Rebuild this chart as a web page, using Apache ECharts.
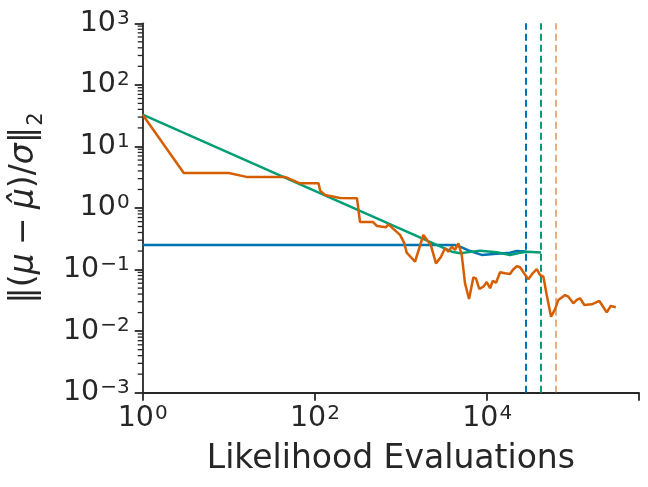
<!DOCTYPE html>
<html><head><meta charset="utf-8">
<script src="https://cdn.jsdelivr.net/npm/echarts@6/dist/echarts.min.js"></script>
<style>html,body{margin:0;padding:0;background:#fff}#c{width:648px;height:487px}</style>
</head><body><div id="c"></div>
<script>
// ---- data ----
const blueX = [1, 4200, 4850, 6340, 8650, 12920, 18450, 22080, 28300];
const blueY = [0.251, 0.25, 0.235, 0.2, 0.173, 0.18, 0.188, 0.2, 0.196];
const greenX = [1, 3900, 4850, 8280, 12920, 18450, 24100, 28840, 42300];
const greenY = [32.8, 0.195, 0.184, 0.203, 0.191, 0.173, 0.188, 0.195, 0.19];
const orangeX = [1, 3, 10, 16, 45, 67, 110, 115, 131, 195, 308, 334, 473, 526, 670, 713, 973, 1084, 1164, 1455,
  1816, 2213, 2547, 2891, 3243, 3540, 3882, 4236, 4634, 5070, 5534, 6166, 6918, 7430, 8110, 9036, 9886, 10810,
  11610, 12680, 14130, 16140, 18450, 19820, 22080, 24100, 26850, 30060, 33880, 37670, 41110, 44980, 49200, 55200,
  61380, 67140, 80350, 87700, 100200, 109900, 120000, 134600, 164100, 200900, 223900, 244900, 272300, 311900];
const orangeY = [32.8, 3.7, 3.7, 3.2, 3.2, 2.52, 2.52, 1.92, 1.63, 1.45, 1.44, 0.59, 0.59, 0.51, 0.486, 0.543, 0.365,
  0.274, 0.188, 0.134, 0.365, 0.251, 0.126, 0.158, 0.222, 0.195, 0.235, 0.208, 0.267, 0.173, 0.0598, 0.0333, 0.075,
  0.0711, 0.0484, 0.0527, 0.0628, 0.0497, 0.0653, 0.0612, 0.0904, 0.0871, 0.0847, 0.0984, 0.114, 0.109, 0.0871,
  0.0695, 0.0871, 0.102, 0.0817, 0.0766, 0.0386, 0.0172, 0.0226, 0.0321, 0.0386, 0.0363, 0.0283, 0.0321, 0.0342,
  0.0266, 0.0273, 0.0309, 0.0244, 0.0202, 0.0256, 0.0244];
const stopX = [28300, 42300, 63100]; // blue, green, orange stopping points
const xTickExps = [0, 2, 4];
const yTickExps = [-3, -2, -1, 0, 1, 2, 3];
const xLabel = 'Likelihood Evaluations';

// ---- chart ----
const FONT = 'DejaVu Sans';
const INK = '#262626';
const zip = (xs, ys) => xs.map((x, i) => [x, ys[i]]);
const supFmt = v => {
  const e = Math.round(Math.log10(v));
  return '{b|10}{s|' + (e < 0 ? '\u2212' + (-e) : e) + '}';
};
const richLab = {
  b: { fontSize: 28.5, fontFamily: FONT, color: INK, lineHeight: 30, verticalAlign: 'middle' },
  s: { fontSize: 20, fontFamily: FONT, color: INK, lineHeight: 25, verticalAlign: 'top', padding: [0, 0, 0, 1] }
};
const dash = (x, color, op) => ({
  silent: true, symbol: ['none', 'none'], label: { show: false },
  lineStyle: { type: [7, 4], width: 2, color: color, opacity: op },
  emphasis: { disabled: true },
  data: [{ xAxis: x }]
});
const chart = echarts.init(document.getElementById('c'), null, { renderer: 'canvas' });
const nameRich = {
  n: { fontSize: 33, fontFamily: FONT, color: INK, lineHeight: 44, verticalAlign: 'middle' },
  i: { fontSize: 33, fontFamily: FONT, fontStyle: 'italic', color: INK, lineHeight: 44, verticalAlign: 'middle' },
  s: { fontSize: 21, fontFamily: FONT, color: INK, lineHeight: 20, verticalAlign: 'bottom', padding: [0, 0, 0, 1] }
};
const option = {
  animation: false,
  backgroundColor: '#fff',
  textStyle: { fontFamily: FONT, color: INK },
  grid: { left: 142.7, right: 9, top: 23.3, bottom: 94.3, containLabel: false },
  xAxis: {
    type: 'log', logBase: 10, min: 1, max: 5.8e5, interval: 2,
    name: xLabel, nameLocation: 'middle', nameGap: 50,
    nameTextStyle: { fontSize: 33, fontFamily: FONT, color: INK, verticalAlign: 'top' },
    axisLine: { show: true, lineStyle: { color: INK, width: 1.8 } },
    axisTick: { show: true, length: 8, lineStyle: { color: INK, width: 1.8 } },
    axisLabel: { margin: 11, formatter: v => {
      const e = Math.round(Math.log10(v));
      return xTickExps.includes(e) ? supFmt(v) : '';
    }, rich: richLab },
    splitLine: { show: false }, minorTick: { show: false }
  },
  yAxis: {
    type: 'log', logBase: 10, min: 1e-3, max: 1e3, interval: 1,
    name: '{n|\u2016(}{i|\u03bc}{n|\u2005\u2212\u2005}{i|\u03bc\u0302}{n|)/}{i|\u03c3}{n|\u2016}{s|2}',
    nameLocation: 'middle', nameRotate: 90, nameGap: 96,
    nameTextStyle: { fontSize: 33, fontFamily: FONT, color: INK, rich: nameRich },
    axisLine: { show: true, lineStyle: { color: INK, width: 1.8 } },
    axisTick: { show: true, length: 8, lineStyle: { color: INK, width: 1.8 } },
    axisLabel: { margin: 13, formatter: v => {
      const e = Math.round(Math.log10(v));
      return yTickExps.includes(e) ? supFmt(v) : '';
    }, rich: richLab },
    splitLine: { show: false }, minorTick: { show: false }
  },
  series: [
    { type: 'line', data: zip(blueX, blueY), symbol: 'none', z: 3,
      lineStyle: { color: '#0173b2', width: 2.5 }, itemStyle: { color: '#0173b2' },
      markLine: dash(stopX[0], '#0173b2', 1) },
    { type: 'line', data: zip(greenX, greenY), symbol: 'none', z: 4,
      lineStyle: { color: '#029e73', width: 2.5 }, itemStyle: { color: '#029e73' },
      markLine: dash(stopX[1], '#029e73', 1) },
    { type: 'line', data: zip(orangeX, orangeY), symbol: 'none', z: 5,
      lineStyle: { color: '#d55e00', width: 2.5 }, itemStyle: { color: '#d55e00' },
      markLine: dash(stopX[2], '#d55e00', 0.5) }
  ]
};
chart.setOption(option);
// log minor ticks on the y axis (2..9 x 10^e), placed via the axis scale
const gx = chart.convertToPixel({ xAxisIndex: 0 }, 1);
const minor = [];
for (let e = -3; e < 3; e++) {
  for (let k = 2; k <= 9; k++) {
    const py = chart.convertToPixel({ yAxisIndex: 0 }, k * Math.pow(10, e));
    minor.push({ type: 'line', silent: true, z: 10,
      shape: { x1: gx - 5, y1: py, x2: gx, y2: py },
      style: { stroke: INK, lineWidth: 1.3 } });
  }
}
chart.setOption({ graphic: minor });
</script></body></html>
